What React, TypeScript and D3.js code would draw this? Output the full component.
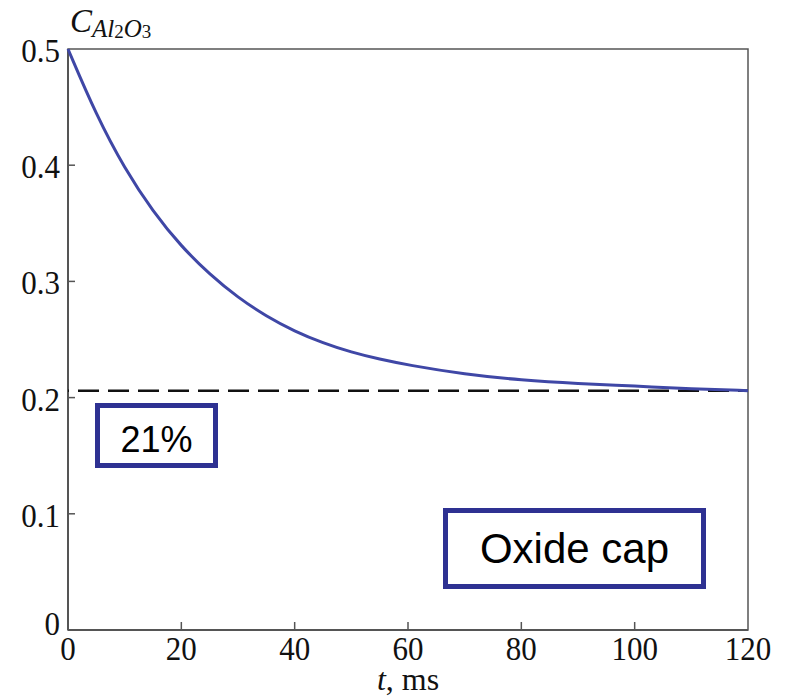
import React from "react";
import * as d3 from "d3";

// Al2O3 concentration over time
const timeMs = [0, 5, 10, 15, 20, 25, 30, 35, 40, 45, 50, 55, 60, 70, 80, 90, 100, 110, 120];
const concentration = [0.5, 0.443, 0.397, 0.36, 0.33, 0.306, 0.286, 0.27, 0.257, 0.247, 0.239, 0.233, 0.228, 0.22, 0.215, 0.212, 0.21, 0.2075, 0.206];
const equilibriumLevel = 0.206;
const xTicks = [0, 20, 40, 60, 80, 100, 120];
const yTicks = [0, 0.1, 0.2, 0.3, 0.4, 0.5];
const equilibriumLabel = "21%";
const regimeLabel = "Oxide cap";

const W = 786;
const H = 698;
const left = 68;
const right = 748;
const top = 49;
const bottom = 630;

export default function App() {
  const x = d3.scaleLinear().domain([0, 120]).range([left, right]);
  const y = d3.scaleLinear().domain([0, 0.5]).range([bottom, top]);
  const pts = timeMs.map((t, i) => [t, concentration[i]] as [number, number]);
  const line = d3
    .line<[number, number]>()
    .x((d) => x(d[0]))
    .y((d) => y(d[1]))
    .curve(d3.curveBasis);

  const serif = "'Liberation Serif', 'Times New Roman', serif";
  const sans = "'Liberation Sans', Arial, sans-serif";
  const axisColor = "#555";
  const boxColor = "#2e3192";

  return (
    <svg
      width={W}
      height={H}
      style={{ position: "absolute", left: 0, top: 0, background: "#fff" }}
    >
      {/* frame */}
      <rect x={left} y={top} width={right - left} height={bottom - top} fill="none" stroke={axisColor} strokeWidth={1.5} />
      <line x1={left} y1={top} x2={left} y2={bottom} stroke={axisColor} strokeWidth={2} />
      <line x1={left} y1={bottom} x2={right} y2={bottom} stroke={axisColor} strokeWidth={2} />

      {/* x ticks */}
      {xTicks.map((t) => (
        <g key={"x" + t}>
          {t > 0 && t < 120 && (
            <line x1={x(t)} x2={x(t)} y1={bottom} y2={bottom - 8} stroke={axisColor} strokeWidth={1.5} />
          )}
          <text
            x={x(t)}
            y={bottom + 30}
            textAnchor="middle"
            fontFamily={serif}
            fontSize={31}
            fill="#111"
            transform={`translate(0 ${-(bottom + 30) * 0.08}) scale(1 1.08)`}
          >
            {t}
          </text>
        </g>
      ))}

      {/* y ticks */}
      {yTicks.map((v) => {
        const by = v === 0 ? y(v) + 5 : y(v) + 13;
        return (
          <g key={"y" + v}>
            {v > 0 && v < 0.5 && (
              <line x1={left} x2={left + 7} y1={y(v)} y2={y(v)} stroke={axisColor} strokeWidth={1.5} />
            )}
            <text
              x={left - 8}
              y={by}
              textAnchor="end"
              fontFamily={serif}
              fontSize={31}
              fill="#111"
              transform={`translate(0 ${-by * 0.08}) scale(1 1.08)`}
            >
              {v === 0 ? "0" : v.toFixed(1)}
            </text>
          </g>
        );
      })}

      {/* equilibrium level */}
      <line
        x1={left}
        x2={right}
        y1={y(equilibriumLevel)}
        y2={y(equilibriumLevel)}
        stroke="#111"
        strokeWidth={2.5}
        strokeDasharray="21 9"
        strokeDashoffset={-10}
      />

      {/* concentration curve */}
      <path d={line(pts) ?? ""} fill="none" stroke="#3f47a6" strokeWidth={3} />

      {/* annotation boxes */}
      <rect x={97.5} y={405.5} width={118} height={60} fill="#fff" stroke={boxColor} strokeWidth={5} />
      <text x={156.5} y={452} textAnchor="middle" fontFamily={sans} fontSize={36} fill="#000">
        {equilibriumLabel}
      </text>
      <rect x={445.5} y={510.5} width={258} height={76} fill="#fff" stroke={boxColor} strokeWidth={5} />
      <text x={574.5} y={563} textAnchor="middle" fontFamily={sans} fontSize={42} fill="#000">
        {regimeLabel}
      </text>

      {/* axis titles */}
      <text x={70} y={32} fontFamily={serif} fontStyle="italic" fontSize={33} fill="#111">
        C
        <tspan dy={5} fontSize={25}>Al</tspan>
        <tspan dy={1} fontStyle="normal" fontSize={19}>2</tspan>
        <tspan dy={-1} fontSize={25}>O</tspan>
        <tspan dy={1} fontStyle="normal" fontSize={19}>3</tspan>
      </text>
      <text x={408} y={690} textAnchor="middle" fontFamily={serif} fontSize={32} fill="#111">
        <tspan fontStyle="italic">t</tspan>, ms
      </text>
    </svg>
  );
}
